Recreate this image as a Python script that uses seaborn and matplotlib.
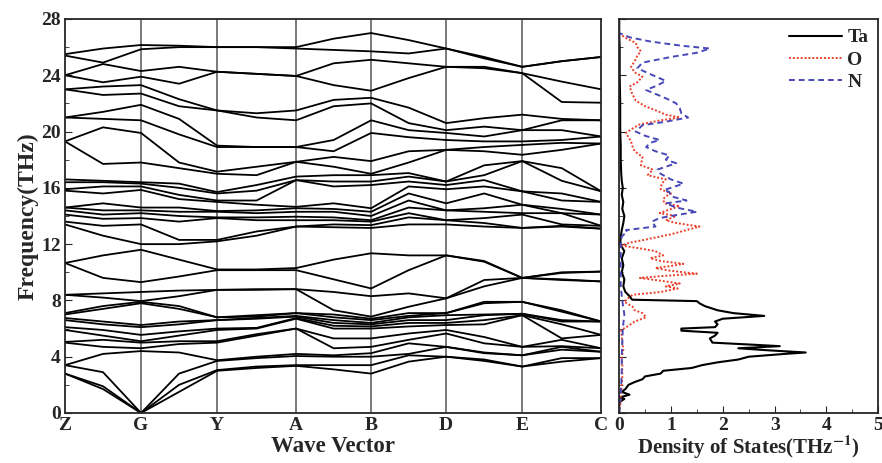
import numpy as np
import pandas as pd
import matplotlib
matplotlib.use("Agg")
import matplotlib.pyplot as plt
from matplotlib.ticker import MultipleLocator
import seaborn as sns

# ---------------- data ----------------
kpoint_labels = ["Z", "G", "Y", "A", "B", "D", "E", "C"]
kpoint_dist = [0, 76, 152, 231, 306, 381, 457, 536]

# band frequencies (THz), sorted, at high-symmetry points and segment midpoints
freq_Z = [2.8, 2.8, 3.4, 3.4, 5.0, 5.05, 5.9, 6.1, 6.6, 6.75, 7.0, 7.1, 8.4, 8.4, 10.66, 10.66,
          13.4, 13.6, 14.1, 14.4, 14.6, 14.6, 15.8, 15.9, 16.4, 16.6, 19.3, 19.3, 21.0, 21.0,
          23.0, 23.0, 24.0, 24.0, 25.4, 25.5]
freq_ZG = [1.7, 1.9, 2.9, 4.2, 4.7, 5.2, 5.5, 5.9, 6.3, 6.5, 7.4, 7.6, 8.2, 8.5, 9.6, 11.2,
           12.6, 13.3, 13.8, 14.1, 14.4, 14.9, 15.6, 16.1, 16.4, 16.5, 17.7, 20.3, 20.9, 21.4,
           22.6, 23.2, 23.5, 24.8, 24.9, 25.9]
freq_G = [0.0, 0.0, 0.0, 4.4, 4.6, 5.0, 5.1, 5.55, 6.1, 6.25, 7.8, 7.9, 7.95, 8.6, 9.3, 11.6,
          12.0, 13.4, 13.85, 14.2, 14.4, 14.6, 15.85, 16.1, 16.3, 16.4, 17.8, 19.9, 20.8, 21.9,
          22.7, 23.3, 23.9, 24.3, 25.85, 26.15]
freq_GY = [1.5, 2.0, 2.8, 4.3, 4.9, 5.1, 5.5, 5.8, 6.3, 6.5, 7.4, 7.6, 8.3, 8.7, 9.7, 10.9,
           12.0, 12.3, 13.6, 14.0, 14.3, 14.6, 15.2, 15.5, 16.0, 16.3, 17.4, 17.8, 19.8, 20.9,
           21.8, 22.3, 23.4, 24.6, 26.0, 26.1]
freq_Y = [3.0, 3.05, 3.7, 3.75, 5.0, 5.1, 5.9, 6.0, 6.6, 6.6, 6.8, 6.8, 8.75, 8.75, 10.15, 10.2,
          12.2, 12.3, 13.85, 13.9, 14.3, 14.35, 15.0, 15.1, 15.6, 15.7, 17.0, 17.15, 18.9, 19.0,
          21.5, 21.5, 24.25, 24.25, 26.0, 26.0]
freq_YA = [3.2, 3.3, 3.9, 4.0, 5.5, 5.6, 6.0, 6.05, 6.7, 6.75, 6.85, 6.95, 8.75, 8.8, 10.15, 10.2,
           12.6, 12.9, 13.7, 13.9, 14.2, 14.4, 14.8, 15.1, 15.8, 16.2, 16.9, 17.5, 18.9, 18.9,
           21.0, 21.3, 24.1, 24.1, 26.0, 26.0]
freq_A = [3.35, 3.4, 4.05, 4.2, 6.0, 6.0, 6.7, 6.75, 6.85, 6.9, 7.1, 7.1, 8.8, 8.8, 10.15, 10.3,
          13.25, 13.25, 13.7, 13.95, 14.3, 14.55, 14.65, 16.55, 16.55, 16.8, 17.85, 17.85, 18.9, 18.9,
          20.8, 21.5, 23.95, 23.95, 25.9, 26.0]
freq_AB = [3.1, 3.4, 4.0, 4.1, 4.6, 5.3, 6.0, 6.2, 6.4, 6.6, 6.8, 7.0, 7.3, 8.6, 9.5, 10.9,
           13.2, 13.4, 13.7, 13.9, 14.3, 14.5, 14.9, 16.1, 16.45, 16.9, 17.5, 18.2, 18.6, 19.4,
           21.8, 22.25, 23.3, 24.85, 25.8, 26.6]
freq_B = [2.8, 3.4, 4.0, 4.25, 4.7, 5.3, 6.0, 6.15, 6.3, 6.4, 6.6, 6.7, 6.85, 8.3, 8.85, 11.35,
          13.15, 13.35, 13.6, 13.7, 14.0, 14.3, 14.55, 16.2, 16.45, 16.9, 17.0, 17.9, 19.9, 20.8,
          22.0, 22.4, 22.9, 25.1, 25.7, 27.0]
freq_BD = [3.65, 4.1, 4.2, 4.95, 5.2, 5.65, 6.15, 6.4, 6.6, 6.8, 6.9, 7.1, 7.55, 8.5, 10.15, 11.2,
           13.4, 13.9, 14.2, 14.6, 15.1, 15.6, 16.1, 16.45, 16.8, 17.05, 17.8, 18.6, 19.6, 20.1,
           20.6, 21.7, 23.8, 24.85, 25.55, 26.5]
freq_D = [4.0, 4.0, 4.7, 4.7, 5.65, 5.9, 6.25, 6.4, 6.6, 6.95, 7.1, 7.1, 8.15, 8.15, 11.2, 11.2,
          13.4, 13.7, 13.7, 14.4, 14.4, 14.9, 15.9, 16.2, 16.45, 16.45, 18.7, 18.7, 19.4, 19.9,
          20.1, 20.6, 24.6, 24.6, 25.9, 25.9]
freq_DE = [3.7, 3.8, 4.25, 4.3, 4.95, 5.4, 6.3, 6.6, 6.95, 7.0, 7.8, 7.9, 9.0, 9.45, 10.75, 10.8,
           13.25, 13.5, 13.85, 14.3, 14.55, 15.6, 16.1, 16.55, 16.9, 17.6, 18.6, 18.9, 19.3, 19.65,
           20.35, 20.95, 24.5, 24.6, 25.2, 25.3]
freq_E = [3.3, 3.3, 4.1, 4.1, 4.7, 4.7, 6.95, 6.95, 7.05, 7.05, 7.9, 7.9, 9.6, 9.6, 9.6, 9.6,
          13.15, 13.15, 14.1, 14.2, 14.8, 14.8, 15.75, 15.75, 17.9, 17.9, 18.35, 19.05, 19.3, 20.1,
          20.1, 21.2, 24.15, 24.15, 24.6, 24.6]
freq_EC = [3.65, 3.9, 4.5, 4.7, 4.75, 5.2, 5.3, 6.3, 6.5, 6.6, 7.2, 7.3, 9.45, 9.5, 9.95, 10.0,
           13.25, 13.3, 13.4, 14.2, 14.2, 14.5, 15.1, 15.6, 16.5, 17.4, 18.7, 19.2, 19.4, 20.1,
           20.8, 20.9, 22.1, 23.55, 25.0, 25.0]
freq_C = [3.9, 3.9, 4.35, 4.35, 4.6, 4.6, 5.55, 5.55, 6.5, 6.5, 6.5, 6.5, 9.35, 9.35, 10.05, 10.05,
          13.1, 13.1, 13.3, 13.3, 14.1, 14.1, 15.0, 15.0, 15.75, 15.75, 19.15, 19.15, 19.65, 19.65,
          20.8, 20.8, 22.05, 23.0, 25.3, 25.3]

# partial phonon DOS (THz^-1)
Ta_freq = [0.0, 0.5, 0.8, 1.0, 1.1, 1.3, 1.5, 1.7, 2.0, 2.2, 2.4, 2.6, 2.8, 3.0, 3.2, 3.4, 3.6,
           3.8, 4.0, 4.2, 4.3, 4.45, 4.6, 4.75, 4.85, 5.0, 5.3, 5.5, 5.7, 5.85, 6.0, 6.1, 6.3,
           6.5, 6.7, 6.9, 7.1, 7.3, 7.6, 7.8, 7.95, 8.05, 8.3, 8.6, 9.0, 9.5, 10.0, 10.5, 11.0,
           11.5, 12.0, 12.5, 13.0, 13.5, 14.0, 14.5, 15.0, 15.5, 16.0, 16.5, 17.0, 18.0, 19.0,
           20.0, 22.0, 24.0, 26.0, 27.0, 28.0]
Ta_dos = [0.0, 0.0, 0.02, 0.1, 0.0, 0.2, 0.05, 0.12, 0.18, 0.3, 0.45, 0.5, 0.8, 0.85, 1.4, 1.6, 1.9,
          2.3, 2.5, 3.2, 3.6, 2.9, 2.3, 3.1, 2.6, 1.8, 1.75, 1.85, 1.9, 1.2, 1.2, 1.85, 1.9,
          1.85, 2.0, 2.8, 2.2, 1.9, 1.65, 1.55, 1.5, 0.25, 0.2, 0.12, 0.08, 0.1, 0.05, 0.08, 0.05,
          0.1, 0.02, 0.03, 0.05, 0.08, 0.1, 0.06, 0.08, 0.05, 0.07, 0.05, 0.04, 0.03, 0.03,
          0.02, 0.02, 0.01, 0.01, 0.0, 0.0]
O_freq = [0.0, 0.5, 1.0, 1.5, 2.0, 2.5, 3.0, 3.5, 4.0, 4.5, 5.0, 5.5, 5.9, 6.15, 6.5, 6.8, 7.1,
          7.3, 7.55, 7.9, 8.1, 8.4, 8.6, 8.85, 9.0, 9.2, 9.4, 9.6, 9.75, 9.9, 10.1, 10.3, 10.45,
          10.6, 10.8, 11.0, 11.2, 11.5, 11.7, 11.9, 12.1, 12.3, 12.7, 13.0, 13.25, 13.5, 13.7,
          14.0, 14.2, 14.5, 14.7, 14.9, 15.2, 15.4, 15.6, 15.9, 16.3, 16.6, 16.9, 17.3, 17.6,
          18.2, 18.6, 19.0, 19.3, 19.9, 20.2, 20.5, 20.8, 21.0, 21.2, 21.5, 21.8, 22.2, 22.7,
          23.2, 23.5, 23.9, 24.2, 24.6, 25.0, 25.4, 25.7, 26.0, 26.3, 26.7, 27.0, 28.0]
O_dos = [0.0, 0.02, 0.03, 0.04, 0.05, 0.06, 0.06, 0.06, 0.05, 0.08, 0.06, 0.05, 0.04, 0.16, 0.3,
         0.52, 0.45, 0.3, 0.26, 0.1, 0.15, 0.26, 0.8, 1.13, 0.9, 1.17, 0.8, 0.4, 0.9, 1.5, 1.0,
         0.7, 1.0, 1.24, 0.8, 0.6, 0.85, 0.7, 0.4, 0.04, 0.2, 0.48, 1.0, 1.3, 1.55, 1.1, 0.9,
         1.1, 0.78, 1.0, 1.17, 0.87, 0.85, 0.9, 1.0, 0.8, 0.82, 0.9, 0.55, 0.65, 0.42, 0.45,
         0.3, 0.25, 0.23, 0.13, 0.25, 0.39, 0.8, 1.17, 0.9, 0.71, 0.5, 0.32, 0.25, 0.2, 0.35,
         0.45, 0.3, 0.23, 0.3, 0.35, 0.42, 0.35, 0.32, 0.1, 0.0, 0.0]
N_freq = [0.0, 1.0, 2.0, 3.0, 4.0, 5.0, 6.0, 7.0, 7.5, 8.0, 9.0, 10.0, 11.0, 11.8, 12.2, 12.55,
          12.9, 13.0, 13.25, 13.6, 13.85, 14.0, 14.3, 14.6, 14.9, 15.1, 15.4, 15.7, 15.85, 16.0,
          16.3, 16.6, 17.0, 17.3, 17.75, 18.0, 18.3, 18.6, 18.9, 19.2, 19.4, 19.7, 20.0, 20.45,
          20.7, 21.0, 21.3, 21.65, 22.0, 22.25, 22.6, 22.95, 23.3, 23.6, 24.0, 24.5, 24.9, 25.3,
          25.6, 25.9, 26.1, 26.4, 26.7, 27.0, 28.0]
N_dos = [0.0, 0.02, 0.04, 0.05, 0.05, 0.06, 0.07, 0.1, 0.08, 0.06, 0.03, 0.03, 0.03, 0.03, 0.04,
         0.05, 0.16, 0.13, 0.7, 0.63, 0.78, 1.0, 1.5, 1.1, 0.9, 1.3, 1.0, 0.97, 0.87, 1.0, 1.24,
         1.0, 0.8, 0.74, 1.1, 0.9, 0.97, 0.7, 0.52, 0.6, 0.78, 0.5, 0.32, 0.45, 0.9, 1.33, 1.2,
         1.17, 1.1, 0.97, 0.75, 0.52, 0.75, 0.9, 0.65, 0.35, 0.45, 1.0, 1.5, 1.75, 1.2, 0.6,
         0.2, 0.0, 0.0]

# ---------------- build tables ----------------
samples = [freq_Z, freq_ZG, freq_G, freq_GY, freq_Y, freq_YA, freq_A, freq_AB,
           freq_B, freq_BD, freq_D, freq_DE, freq_E, freq_EC, freq_C]
sample_k = []
for i, d in enumerate(kpoint_dist):
    sample_k.append(d)
    if i < len(kpoint_dist) - 1:
        sample_k.append((d + kpoint_dist[i + 1]) / 2)

rows = []
for k, fr in zip(sample_k, samples):
    for b, f in enumerate(fr):
        rows.append({"k": k, "freq": f, "band": b})
bands = pd.DataFrame(rows)

# ---------------- style ----------------
sns.set_style("ticks")
plt.rcParams["font.family"] = ["Liberation Serif", "DejaVu Serif"]
plt.rcParams["font.weight"] = "bold"
plt.rcParams["mathtext.fontset"] = "stix"
plt.rcParams["axes.linewidth"] = 1.3

fig = plt.figure(figsize=(8.82, 4.63), dpi=100)
ax = fig.add_axes([0.0737, 0.108, 0.608, 0.851])
ax2 = fig.add_axes([0.702, 0.108, 0.2937, 0.851])

TICK_FS = 14
LABEL_FS = 16.5

# band structure
for d in kpoint_dist[1:-1]:
    ax.axvline(d, color="#555555", lw=1.1, zorder=1)
sns.lineplot(data=bands, x="k", y="freq", units="band", estimator=None,
             color="black", lw=1.3, sort=True, ax=ax, legend=False, zorder=2)
ax.set_xlim(kpoint_dist[0], kpoint_dist[-1])
ax.set_ylim(0, 28)
ax.set_xticks(kpoint_dist)
ax.set_xticklabels(kpoint_labels)
ax.yaxis.set_major_locator(MultipleLocator(4))
ax.yaxis.set_minor_locator(MultipleLocator(2))
ax.tick_params(axis="y", which="both", direction="in", labelsize=TICK_FS, pad=3)
ax.tick_params(axis="y", which="major", length=5)
ax.tick_params(axis="y", which="minor", length=3)
ax.tick_params(axis="x", length=0, labelsize=TICK_FS, pad=3)
ax.set_xlabel("Wave Vector", fontsize=LABEL_FS, fontweight="bold", labelpad=1)
ax.set_ylabel("Frequency(THz)", fontsize=LABEL_FS + 0.5, fontweight="bold", labelpad=2)
for lab in ax.get_xticklabels() + ax.get_yticklabels():
    lab.set_fontweight("bold")

# DOS
sns.lineplot(x=Ta_dos, y=Ta_freq, sort=False, estimator=None, orient="y",
             color="black", lw=1.5, ax=ax2, label="Ta")
sns.lineplot(x=O_dos, y=O_freq, sort=False, estimator=None, orient="y",
             color="#e8402a", lw=1.4, ls=(0, (1, 1)), ax=ax2, label="O")
sns.lineplot(x=N_dos, y=N_freq, sort=False, estimator=None, orient="y",
             color="#4848b8", lw=1.4, ls=(0, (3, 2)), ax=ax2, label="N")
ax2.set_xlim(0, 5)
ax2.set_ylim(0, 28)
ax2.xaxis.set_major_locator(MultipleLocator(1))
ax2.xaxis.set_minor_locator(MultipleLocator(0.5))
ax2.yaxis.set_major_locator(MultipleLocator(4))
ax2.yaxis.set_minor_locator(MultipleLocator(2))
ax2.tick_params(axis="both", which="both", direction="in")
ax2.tick_params(axis="x", which="major", length=5, labelsize=TICK_FS, pad=3)
ax2.tick_params(axis="x", which="minor", length=3)
ax2.tick_params(axis="y", which="major", length=5, labelleft=False)
ax2.tick_params(axis="y", which="minor", length=3)
ax2.set_ylabel("")
ax2.set_xlabel("Density of States(THz$^{\\mathbf{-1}}$)", fontsize=15,
               fontweight="bold", labelpad=0)
for lab in ax2.get_xticklabels():
    lab.set_fontweight("bold")
leg = ax2.legend(loc="upper right", frameon=False, handlelength=2.7,
                 handletextpad=0.3, borderaxespad=0.1, labelspacing=0.25,
                 prop={"weight": "bold", "size": 14})

fig.savefig("out.png", dpi=100)
